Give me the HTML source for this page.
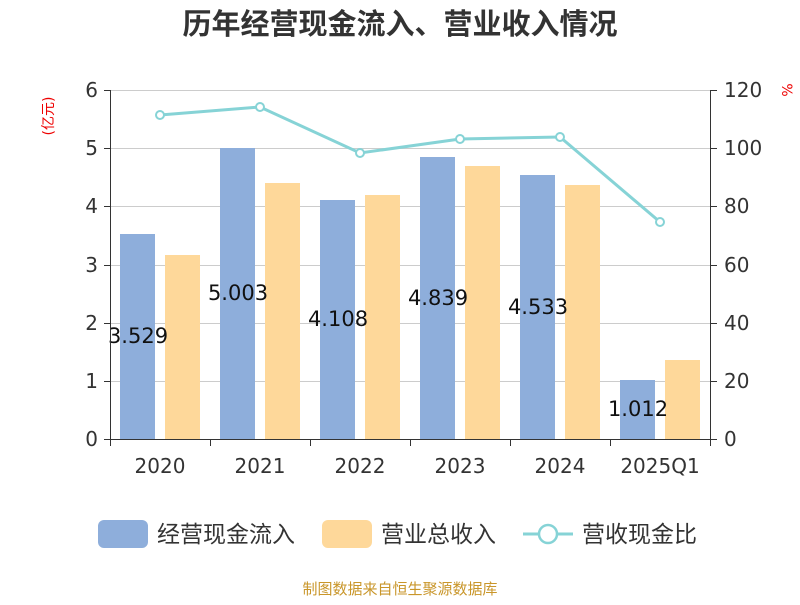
<!DOCTYPE html>
<html><head><meta charset="utf-8"><style>
body{margin:0;background:#fff;}
svg text{font-family:"DejaVu Sans","Noto Sans CJK SC",sans-serif;}
</style></head><body>
<svg width="800" height="600" viewBox="0 0 800 600" xmlns="http://www.w3.org/2000/svg">
<rect width="800" height="600" fill="#fff"/>
<text x="400" y="34" text-anchor="middle" font-size="29" font-weight="bold" fill="#333">历年经营现金流入、营业收入情况</text>
<g stroke="#ccc" stroke-width="1">
<line x1="110" y1="90.5" x2="711" y2="90.5"/>
<line x1="110" y1="148.5" x2="711" y2="148.5"/>
<line x1="110" y1="206.5" x2="711" y2="206.5"/>
<line x1="110" y1="265.5" x2="711" y2="265.5"/>
<line x1="110" y1="323.5" x2="711" y2="323.5"/>
<line x1="110" y1="381.5" x2="711" y2="381.5"/>
</g>
<g fill="#8eaedb">
<rect x="120" y="234" width="35" height="205"/>
<rect x="220" y="148" width="35" height="291"/>
<rect x="320" y="200" width="35" height="239"/>
<rect x="420" y="157" width="35" height="282"/>
<rect x="520" y="175" width="35" height="264"/>
<rect x="620" y="380" width="35" height="59"/>
</g>
<g fill="#fed89a">
<rect x="165" y="255" width="35" height="184"/>
<rect x="265" y="183" width="35" height="256"/>
<rect x="365" y="195" width="35" height="244"/>
<rect x="465" y="166" width="35" height="273"/>
<rect x="565" y="185" width="35" height="254"/>
<rect x="665" y="360" width="35" height="79"/>
</g>
<g font-size="21" fill="#111" text-anchor="middle">
<text x="138" y="343">3.529</text>
<text x="238" y="300">5.003</text>
<text x="338" y="326">4.108</text>
<text x="438" y="305">4.839</text>
<text x="538" y="314">4.533</text>
<text x="638" y="416">1.012</text>
</g>
<polyline points="160,115 260,107 360,153 460,139 560,137 660,222" fill="none" stroke="#86d3d6" stroke-width="3"/>
<g fill="#fff" stroke="#86d3d6" stroke-width="2">
<circle cx="160" cy="115" r="4"/><circle cx="260" cy="107" r="4"/><circle cx="360" cy="153" r="4"/>
<circle cx="460" cy="139" r="4"/><circle cx="560" cy="137" r="4"/><circle cx="660" cy="222" r="4"/>
</g>
<g stroke="#333" stroke-width="1">
<line x1="110.5" y1="90" x2="110.5" y2="440"/>
<line x1="710.5" y1="90" x2="710.5" y2="440"/>
<line x1="110" y1="439.5" x2="711" y2="439.5"/>
<line x1="104" y1="90.5" x2="110" y2="90.5"/><line x1="104" y1="148.5" x2="110" y2="148.5"/>
<line x1="104" y1="206.5" x2="110" y2="206.5"/><line x1="104" y1="265.5" x2="110" y2="265.5"/>
<line x1="104" y1="323.5" x2="110" y2="323.5"/><line x1="104" y1="381.5" x2="110" y2="381.5"/>
<line x1="104" y1="439.5" x2="110" y2="439.5"/>
<line x1="711" y1="90.5" x2="717" y2="90.5"/><line x1="711" y1="148.5" x2="717" y2="148.5"/>
<line x1="711" y1="206.5" x2="717" y2="206.5"/><line x1="711" y1="265.5" x2="717" y2="265.5"/>
<line x1="711" y1="323.5" x2="717" y2="323.5"/><line x1="711" y1="381.5" x2="717" y2="381.5"/>
<line x1="711" y1="439.5" x2="717" y2="439.5"/>
<line x1="110.5" y1="440" x2="110.5" y2="446"/><line x1="210.5" y1="440" x2="210.5" y2="446"/>
<line x1="310.5" y1="440" x2="310.5" y2="446"/><line x1="410.5" y1="440" x2="410.5" y2="446"/>
<line x1="510.5" y1="440" x2="510.5" y2="446"/><line x1="610.5" y1="440" x2="610.5" y2="446"/>
<line x1="710.5" y1="440" x2="710.5" y2="446"/>
</g>
<g font-size="20" fill="#333" text-anchor="end">
<text x="98" y="97">6</text><text x="98" y="155">5</text><text x="98" y="213">4</text>
<text x="98" y="272">3</text><text x="98" y="330">2</text><text x="98" y="388">1</text><text x="98" y="446">0</text>
</g>
<g font-size="20" fill="#333" text-anchor="start">
<text x="724" y="97">120</text><text x="724" y="155">100</text><text x="724" y="213">80</text>
<text x="724" y="272">60</text><text x="724" y="330">40</text><text x="724" y="388">20</text><text x="724" y="446">0</text>
</g>
<g font-size="20" fill="#333" text-anchor="middle">
<text x="160" y="473">2020</text><text x="260" y="473">2021</text><text x="360" y="473">2022</text>
<text x="460" y="473">2023</text><text x="560" y="473">2024</text><text x="660" y="473">2025Q1</text>
</g>
<text transform="translate(53,116) rotate(-90)" font-size="14" fill="#e00" text-anchor="middle">(亿元)</text>
<text transform="translate(782,90) rotate(90)" font-size="14" fill="#e00" text-anchor="middle">%</text>
<rect x="98" y="520" width="50" height="28" rx="6" fill="#8eaedb"/>
<text x="157" y="542" font-size="23" fill="#333">经营现金流入</text>
<rect x="322" y="520" width="50" height="28" rx="6" fill="#fed89a"/>
<text x="381" y="542" font-size="23" fill="#333">营业总收入</text>
<line x1="523" y1="534" x2="573" y2="534" stroke="#86d3d6" stroke-width="3"/>
<circle cx="548" cy="534" r="9" fill="#fff" stroke="#86d3d6" stroke-width="2.5"/>
<text x="582" y="542" font-size="23" fill="#333">营收现金比</text>
<text x="400" y="594" font-size="15" fill="#c9962a" text-anchor="middle">制图数据来自恒生聚源数据库</text>
</svg>
</body></html>
